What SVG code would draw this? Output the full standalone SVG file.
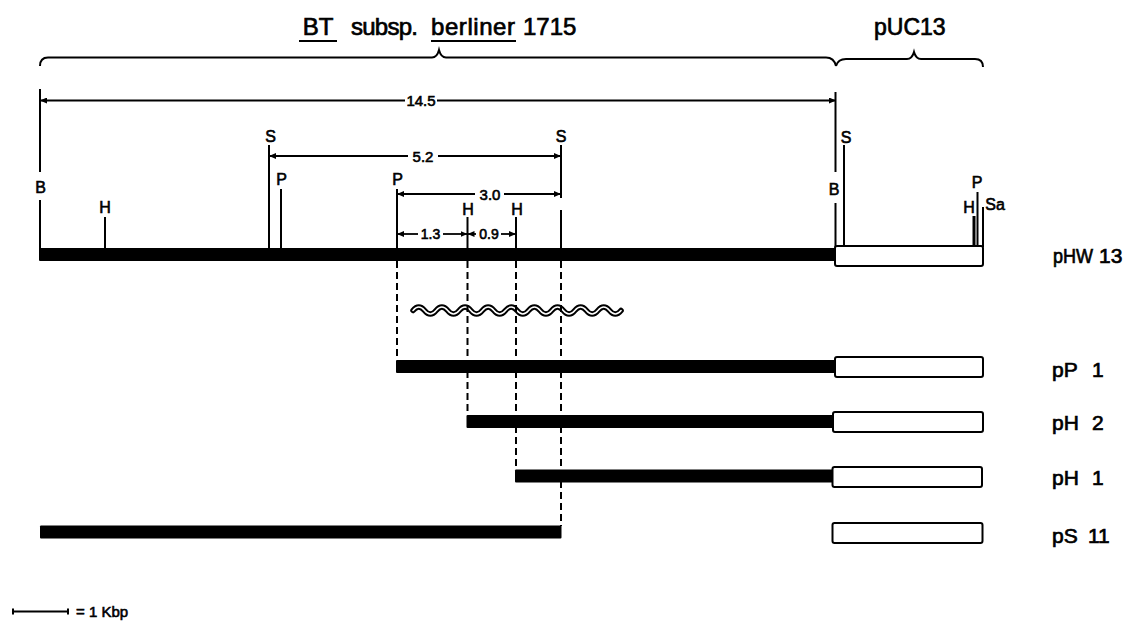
<svg xmlns="http://www.w3.org/2000/svg" width="1140" height="622" viewBox="0 0 1140 622">
<defs>
<style>
text{font-family:"Liberation Sans","DejaVu Sans",sans-serif;fill:#000;stroke:#000;stroke-width:0.6}
.t{font-size:24px;stroke-width:0.7}
.lab{font-size:16px;text-anchor:middle}
.dim{font-size:15px;text-anchor:middle}
.sm{font-size:14px;text-anchor:middle}
.name{font-size:21px;stroke-width:0.7}
.ln{stroke:#000;stroke-width:2;fill:none}
.dl{stroke:#000;stroke-width:1.8;fill:none}
.da{stroke:#000;stroke-width:2;fill:none;stroke-dasharray:7 4}
.bar{fill:#000}
.box{fill:#fff;stroke:#000;stroke-width:2}
</style>
<marker id="ar" markerUnits="userSpaceOnUse" markerWidth="8" markerHeight="6" refX="7" refY="3" orient="auto-start-reverse">
<path d="M0,0 L7,3 L0,6 z" fill="#000"/>
</marker>
</defs>
<rect width="1140" height="622" fill="#fff"/>

<g id="title">
<text class="t" x="318" y="35" text-anchor="middle">BT</text>
<line class="ln" x1="299" y1="41" x2="337" y2="41"/>
<text class="t" x="351" y="35" textLength="67">subsp.</text>
<text class="t" x="431" y="35" textLength="84">berliner</text>
<line class="ln" x1="431" y1="41" x2="516" y2="41"/>
<text class="t" x="523" y="35">1715</text>
<path class="ln" d="M40,66 Q40,57.5 48,57.5 L432,57.5 Q437,57.5 439,50 Q441,57.5 446,57.5 L826,57.5 Q834,57.5 836,66"/>
</g>

<g id="vector-title">
<text class="t" x="874" y="35" style="font-size:23px">pUC13</text>
<path class="ln" d="M836,66 Q838,59 846,59 L907,59 Q912,59 914,52 Q916,59 921,59 L975,59 Q983,59 983,67"/>
</g>

<g id="dimensions">
<line class="dl" x1="40" y1="100.5" x2="405" y2="100.5" marker-start="url(#ar)"/>
<line class="dl" x1="437" y1="100.5" x2="836" y2="100.5" marker-end="url(#ar)"/>
<text class="dim" x="421" y="106">14.5</text>
<line class="dl" x1="269" y1="156" x2="408" y2="156" marker-start="url(#ar)"/>
<line class="dl" x1="438" y1="156" x2="561" y2="156" marker-end="url(#ar)"/>
<text class="dim" x="423" y="161.5">5.2</text>
<line class="dl" x1="397" y1="194" x2="475" y2="194" marker-start="url(#ar)"/>
<line class="dl" x1="504" y1="194" x2="561" y2="194" marker-end="url(#ar)"/>
<text class="dim" x="490" y="199.5">3.0</text>
<line class="dl" x1="397" y1="234" x2="418" y2="234" marker-start="url(#ar)"/>
<line class="dl" x1="443" y1="234" x2="467.5" y2="234" marker-end="url(#ar)"/>
<text class="sm" x="430.5" y="239">1.3</text>
<line class="dl" x1="467.5" y1="234" x2="476" y2="234" marker-start="url(#ar)"/>
<line class="dl" x1="501" y1="234" x2="516" y2="234" marker-end="url(#ar)"/>
<text class="sm" x="489" y="239">0.9</text>
</g>

<g id="pHW13">
<line class="ln" x1="40" y1="89" x2="40" y2="172"/>
<line class="ln" x1="40" y1="200" x2="40" y2="249"/>
<text class="lab" x="40.5" y="193">B</text>
<line class="ln" x1="105" y1="217" x2="105" y2="249"/>
<text class="lab" x="105" y="213">H</text>
<line class="ln" x1="269" y1="145" x2="269" y2="249"/>
<text class="lab" x="270.5" y="142">S</text>
<line class="ln" x1="281" y1="189" x2="281" y2="249"/>
<text class="lab" x="281.5" y="185">P</text>
<line class="ln" x1="397" y1="189" x2="397" y2="249"/>
<text class="lab" x="397.5" y="185">P</text>
<line class="ln" x1="467.5" y1="217" x2="467.5" y2="249"/>
<text class="lab" x="468" y="215">H</text>
<line class="ln" x1="516" y1="217" x2="516" y2="249"/>
<text class="lab" x="517" y="215">H</text>
<line class="ln" x1="561" y1="145" x2="561" y2="198"/>
<line class="ln" x1="561" y1="210" x2="561" y2="249"/>
<text class="lab" x="561" y="142">S</text>
<line class="ln" x1="835.5" y1="92" x2="835.5" y2="172"/>
<line class="ln" x1="835.5" y1="203" x2="835.5" y2="247"/>
<text class="lab" x="834" y="195">B</text>
<line class="ln" x1="844" y1="145" x2="844" y2="247"/>
<text class="lab" x="846" y="143">S</text>
<line class="ln" x1="977.5" y1="192" x2="977.5" y2="247"/>
<text class="lab" x="977" y="188">P</text>
<line class="ln" x1="974" y1="216" x2="974" y2="247" style="stroke-width:3"/>
<text class="lab" x="969" y="213">H</text>
<line class="ln" x1="983" y1="207" x2="983" y2="247"/>
<text class="lab" x="995" y="210">Sa</text>
<rect class="bar" x="39" y="248" width="797" height="13" rx="1"/>
<rect class="box" x="835" y="246" width="148" height="20" rx="2"/>
<text class="name" x="1053" y="263"><tspan textLength="40" lengthAdjust="spacingAndGlyphs">pHW</tspan><tspan x="1099">13</tspan></text>
</g>

<g id="wavy">
<path d="M413,310.5 q5.78,-7 11.56,0 t11.56,0 t11.56,0 t11.56,0 t11.56,0 t11.56,0 t11.56,0 t11.56,0 t11.56,0 t11.56,0 t11.56,0 t11.56,0 t11.56,0 t11.56,0 t11.56,0 t11.56,0 t11.56,0 t11.56,0" fill="none" stroke="#000" stroke-width="5.5" stroke-linecap="round"/>
<path d="M413,310.5 q5.78,-7 11.56,0 t11.56,0 t11.56,0 t11.56,0 t11.56,0 t11.56,0 t11.56,0 t11.56,0 t11.56,0 t11.56,0 t11.56,0 t11.56,0 t11.56,0 t11.56,0 t11.56,0 t11.56,0 t11.56,0 t11.56,0" fill="none" stroke="#fff" stroke-width="1.5" stroke-linecap="round"/>
</g>

<g id="connectors">
<line class="da" x1="397" y1="261" x2="397" y2="360"/>
<line class="da" x1="467.5" y1="261" x2="467.5" y2="415"/>
<line class="da" x1="516" y1="261" x2="516" y2="469"/>
<line class="da" x1="561" y1="261" x2="561" y2="526"/>
</g>

<g id="pP1">
<rect class="bar" x="396" y="360" width="440" height="13" rx="1"/>
<rect class="box" x="835" y="357" width="148" height="20" rx="2"/>
<text class="name" x="1052" y="377">pP<tspan x="1092">1</tspan></text>
</g>

<g id="pH2">
<rect class="bar" x="466.5" y="415" width="368" height="13" rx="1"/>
<rect class="box" x="833" y="412" width="150" height="20" rx="2"/>
<text class="name" x="1052" y="430">pH<tspan x="1092">2</tspan></text>
</g>

<g id="pH1">
<rect class="bar" x="515" y="469.5" width="318" height="13" rx="1"/>
<rect class="box" x="832.5" y="467" width="149.5" height="20" rx="2"/>
<text class="name" x="1052" y="485">pH<tspan x="1092">1</tspan></text>
</g>

<g id="pS11">
<rect class="bar" x="40" y="525.5" width="521.5" height="13" rx="1"/>
<rect class="box" x="832.5" y="523" width="150" height="20" rx="2"/>
<text class="name" x="1052" y="543">pS<tspan x="1088">11</tspan></text>
</g>

<g id="scale">
<line class="ln" x1="13" y1="611.5" x2="68" y2="611.5"/>
<line class="ln" x1="13" y1="608.5" x2="13" y2="614.5"/>
<line class="ln" x1="68" y1="608.5" x2="68" y2="614.5"/>
<text x="76" y="617" style="font-size:15px">= 1 Kbp</text>
</g>
</svg>
